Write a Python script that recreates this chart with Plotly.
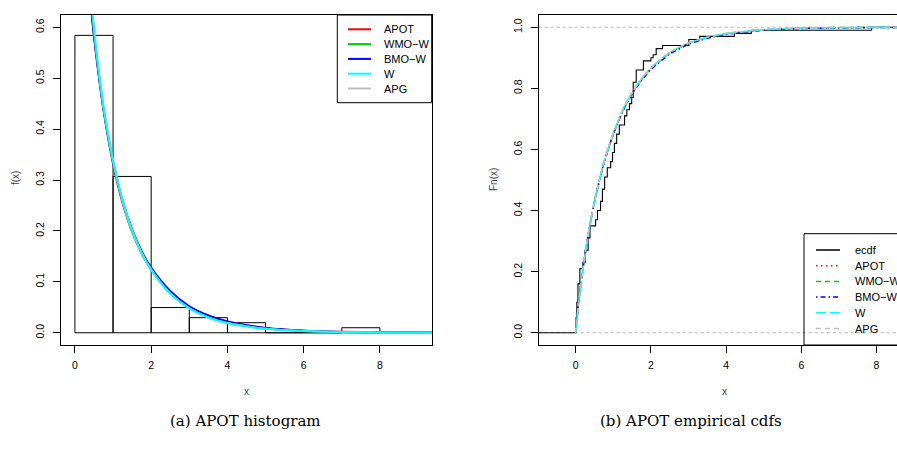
import plotly.graph_objects as go

W_PX, H_PX = 897, 450

# ---------------- data ----------------
hist_breaks = [0, 1, 2, 3, 4, 5, 6, 7, 8]
hist_density = [0.584, 0.307, 0.0495, 0.0297, 0.0198, 0.0, 0.0, 0.0099]

dens_x = [0.30, 0.40, 0.50, 0.60, 0.75, 1.00, 1.25, 1.50, 1.75, 2.00, 2.50,
          3.00, 3.50, 4.00, 5.00, 6.00, 7.00, 8.00, 9.40]
dens_apot = [0.74, 0.655, 0.582, 0.520, 0.437, 0.332, 0.255, 0.198, 0.156, 0.124, 0.079,
             0.051, 0.033, 0.022, 0.0095, 0.0042, 0.0019, 0.0009, 0.0003]
dens_wmow = [0.75, 0.662, 0.587, 0.523, 0.440, 0.336, 0.259, 0.201, 0.158, 0.125, 0.078,
             0.049, 0.031, 0.020, 0.0083, 0.0036, 0.0016, 0.0007, 0.0002]
dens_bmow = [0.745, 0.658, 0.584, 0.521, 0.439, 0.336, 0.259, 0.203, 0.160, 0.128, 0.082,
             0.052, 0.034, 0.022, 0.0092, 0.0039, 0.0017, 0.0008, 0.0002]
dens_w = [0.77, 0.675, 0.595, 0.528, 0.443, 0.337, 0.259, 0.200, 0.157, 0.124, 0.077,
          0.048, 0.030, 0.019, 0.0080, 0.0034, 0.0015, 0.0007, 0.0002]
dens_apg = [0.78, 0.680, 0.598, 0.530, 0.444, 0.338, 0.260, 0.201, 0.157, 0.124, 0.077,
            0.048, 0.030, 0.019, 0.0080, 0.0034, 0.0015, 0.0007, 0.0002]

ecdf_x = [-1.5, 0.01, 0.03, 0.06, 0.11, 0.19, 0.25, 0.33, 0.38, 0.53, 0.58, 0.66, 0.71,
          0.77, 0.84, 0.93, 0.98, 1.03, 1.09, 1.16, 1.30, 1.36, 1.43, 1.49, 1.53,
          1.61, 1.80, 2.00, 2.06, 2.14, 2.31, 3.01, 3.30, 4.22, 4.67, 7.87, 11.0]
ecdf_y = [0.0, 0.05, 0.10, 0.16, 0.21, 0.23, 0.27, 0.31, 0.35, 0.37, 0.40, 0.43, 0.47,
          0.51, 0.54, 0.56, 0.59, 0.62, 0.65, 0.68, 0.71, 0.73, 0.75, 0.77, 0.82,
          0.86, 0.89, 0.90, 0.91, 0.93, 0.94, 0.96, 0.97, 0.98, 0.99, 1.0, 1.0]

cdf_x = [0, 0.02, 0.05, 0.1, 0.2, 0.3, 0.4, 0.5, 0.6, 0.75, 1.0, 1.25, 1.5, 1.75, 2.0,
         2.5, 3.0, 3.5, 4.0, 5.0, 6.0, 7.0, 8.0, 9.0, 10.0]
cdf_apot = [0, 0.030, 0.065, 0.120, 0.213, 0.294, 0.365, 0.428, 0.482, 0.555, 0.651, 0.727,
            0.785, 0.830, 0.866, 0.916, 0.947, 0.966, 0.978, 0.991, 0.996, 0.998, 0.999, 0.9996, 0.9998]
cdf_wmow = [0, 0.032, 0.068, 0.124, 0.218, 0.298, 0.368, 0.431, 0.485, 0.557, 0.652, 0.727,
            0.784, 0.829, 0.865, 0.915, 0.947, 0.967, 0.979, 0.992, 0.997, 0.999, 0.9995, 0.9998, 0.9999]
cdf_bmow = [0, 0.031, 0.066, 0.122, 0.215, 0.296, 0.366, 0.429, 0.483, 0.555, 0.650, 0.725,
            0.782, 0.826, 0.862, 0.912, 0.944, 0.964, 0.977, 0.990, 0.996, 0.998, 0.999, 0.9996, 0.9998]
cdf_w = [0, 0.029, 0.064, 0.119, 0.214, 0.296, 0.367, 0.430, 0.484, 0.557, 0.653, 0.729,
         0.786, 0.831, 0.867, 0.917, 0.948, 0.967, 0.979, 0.992, 0.997, 0.999, 0.9995, 0.9998, 0.9999]
cdf_apg = [0, 0.029, 0.064, 0.119, 0.214, 0.296, 0.367, 0.430, 0.484, 0.557, 0.653, 0.729,
           0.786, 0.831, 0.867, 0.917, 0.948, 0.967, 0.979, 0.992, 0.997, 0.999, 0.9995, 0.9998, 0.9999]

left_ticks_x = [0, 2, 4, 6, 8]
left_ticks_y = [0.0, 0.1, 0.2, 0.3, 0.4, 0.5, 0.6]
right_ticks_x = [0, 2, 4, 6, 8]
right_ticks_y = [0.0, 0.2, 0.4, 0.6, 0.8, 1.0]

model_names = ["APOT", "WMO\u2212W", "BMO\u2212W", "W", "APG"]
model_colors = ["#FF0000", "#00CD00", "#0000FF", "#00FFFF", "#BEBEBE"]
cdf_dashes = ["1.5px,3.5px", "5px,4px", "1.5px,3px,5px,3px", "10px,4px", "5px,4px"]

# ---------------- helpers ----------------
def PX(x):
    return x / W_PX


def PY(y):
    return 1 - y / H_PX


FONT = "Liberation Sans, Arial, sans-serif"

fig = go.Figure()

# histogram rectangles (outline only, like R hist)
hx, hy = [], []
for i, d in enumerate(hist_density):
    l, r = hist_breaks[i], hist_breaks[i + 1]
    hx += [l, l, r, r, l, None]
    hy += [0, d, d, 0, 0, None]
fig.add_trace(go.Scatter(x=hx, y=hy, mode="lines", line=dict(color="#000000", width=1),
                         xaxis="x", yaxis="y", showlegend=False, hoverinfo="skip"))

dens_series = [dens_apot, dens_wmow, dens_bmow, dens_apg, dens_w]
dens_cols = [model_colors[0], model_colors[1], model_colors[2], model_colors[4], model_colors[3]]
for ys, c in zip(dens_series, dens_cols):
    fig.add_trace(go.Scatter(x=dens_x, y=ys, mode="lines",
                             line=dict(color=c, width=2, shape="spline", smoothing=0.8),
                             xaxis="x", yaxis="y", showlegend=False, hoverinfo="skip"))

# right panel
fig.add_trace(go.Scatter(x=ecdf_x, y=ecdf_y, mode="lines",
                         line=dict(color="#000000", width=1.1, shape="hv"),
                         xaxis="x2", yaxis="y2", showlegend=False, hoverinfo="skip"))
for ys, c, dsh in zip([cdf_apot, cdf_wmow, cdf_bmow, cdf_w, cdf_apg], model_colors, cdf_dashes):
    fig.add_trace(go.Scatter(x=cdf_x, y=ys, mode="lines",
                             line=dict(color=c, width=1.6, dash=dsh, shape="spline", smoothing=0.6),
                             xaxis="x2", yaxis="y2", showlegend=False, hoverinfo="skip"))

shapes = []
annotations = []

# reference lines at 0 and 1 (as in R's plot.ecdf)
for h in [0, 1]:
    shapes.append(dict(type="line", xref="x2 domain", yref="y2", x0=0, x1=1, y0=h, y1=h,
                       line=dict(color="#B3B3B3", width=1, dash="3px,3px"), layer="below"))

# left legend
shapes.append(dict(type="rect", xref="paper", yref="paper",
                   x0=PX(337.3), x1=PX(431.7), y0=PY(102.7), y1=PY(15),
                   line=dict(color="#000000", width=1)))
for i, (n, c) in enumerate(zip(model_names, model_colors)):
    yy = 29.3 + i * 14.8
    shapes.append(dict(type="line", xref="paper", yref="paper", x0=PX(348), x1=PX(371),
                       y0=PY(yy), y1=PY(yy), line=dict(color=c, width=2)))
    annotations.append(dict(text=n, xref="paper", yref="paper", x=PX(381.5), y=PY(yy),
                            xanchor="left", yanchor="middle", showarrow=False,
                            font=dict(family=FONT, size=11, color="#000000")))

# right legend
shapes.append(dict(type="rect", xref="paper", yref="paper",
                   x0=PX(804), x1=1.05, y0=PY(345), y1=PY(233.7),
                   line=dict(color="#000000", width=1)))
leg2_names = ["ecdf"] + model_names
leg2_cols = ["#000000"] + model_colors
leg2_dash = ["solid"] + cdf_dashes
for i, (n, c, d) in enumerate(zip(leg2_names, leg2_cols, leg2_dash)):
    yy = 250 + i * 15.7
    shapes.append(dict(type="line", xref="paper", yref="paper", x0=PX(816), x1=PX(840),
                       y0=PY(yy), y1=PY(yy), line=dict(color=c, width=1.5, dash=d)))
    annotations.append(dict(text=n, xref="paper", yref="paper", x=PX(852.5), y=PY(yy),
                            xanchor="left", yanchor="middle", showarrow=False,
                            font=dict(family=FONT, size=11, color="#000000")))

# axis titles
annotations += [
    dict(text="f(x)", xref="paper", yref="paper", x=PX(15), y=PY(178), textangle=-90,
         showarrow=False, xanchor="center", yanchor="middle", font=dict(family=FONT, size=10)),
    dict(text="Fn(x)", xref="paper", yref="paper", x=PX(493), y=PY(180), textangle=-90,
         showarrow=False, xanchor="center", yanchor="middle", font=dict(family=FONT, size=10)),
    dict(text="x", xref="paper", yref="paper", x=PX(246.5), y=PY(391.5),
         showarrow=False, xanchor="center", yanchor="middle", font=dict(family=FONT, size=10)),
    dict(text="x", xref="paper", yref="paper", x=PX(724), y=PY(391.5),
         showarrow=False, xanchor="center", yanchor="middle", font=dict(family=FONT, size=10)),
    dict(text="(a) APOT histogram", xref="paper", yref="paper", x=PX(245), y=PY(421),
         showarrow=False, xanchor="center", yanchor="middle",
         font=dict(family="DejaVu Serif, serif", size=15, color="#000000")),
    dict(text="(b) APOT empirical cdfs", xref="paper", yref="paper", x=PX(691), y=PY(421),
         showarrow=False, xanchor="center", yanchor="middle",
         font=dict(family="DejaVu Serif, serif", size=15, color="#000000")),
]

axis_common = dict(showgrid=False, zeroline=False, showline=True, linecolor="#000000",
                   linewidth=1, ticks="outside", ticklen=7, tickcolor="#000000", tickwidth=1,
                   tickfont=dict(family=FONT, size=10.5, color="#000000"))

ydom = [PY(345), PY(15)]
fig.update_layout(
    width=W_PX, height=H_PX, margin=dict(l=0, r=0, t=0, b=0),
    paper_bgcolor="white", plot_bgcolor="white", showlegend=False,
    xaxis=dict(domain=[PX(61), PX(432)], range=[-0.365, 9.365], tickvals=left_ticks_x,
               anchor="y", mirror=True, ticklabelstandoff=3, **axis_common),
    yaxis=dict(domain=ydom, range=[-0.024, 0.624], tickvals=left_ticks_y, tickformat=".1f",
               tickangle=-90, anchor="x", mirror=True, ticklabelstandoff=5, **axis_common),
    xaxis2=dict(domain=[PX(538.7), 1.0], range=[-0.984, 8.545], tickvals=right_ticks_x,
                anchor="y2", mirror=True, ticklabelstandoff=3, **axis_common),
    yaxis2=dict(domain=ydom, range=[-0.04, 1.04], tickvals=right_ticks_y, tickformat=".1f",
                tickangle=-90, anchor="x2", mirror=False, ticklabelstandoff=5, **axis_common),
    shapes=shapes, annotations=annotations,
)

fig.write_html("out.html")
